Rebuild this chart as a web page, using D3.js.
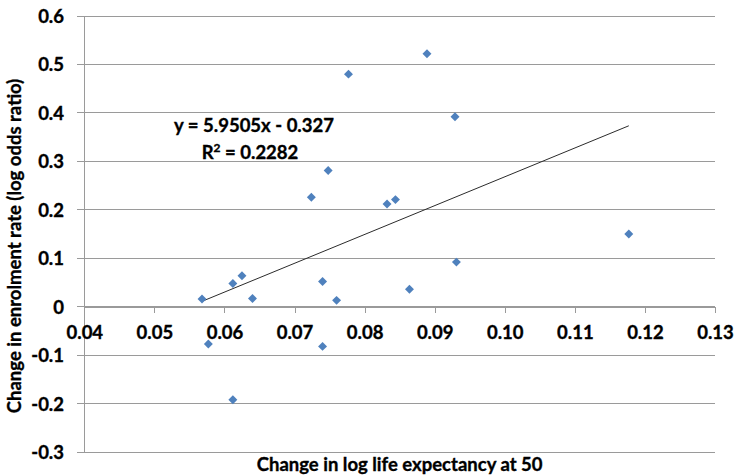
<!DOCTYPE html>
<html>
<head>
<meta charset="utf-8">
<script src="https://cdn.jsdelivr.net/npm/d3@7"></script>
<style>
  html, body { margin: 0; padding: 0; background: #ffffff; }
  svg { display: block; }
  text { font-family: "Lato", "Open Sans", sans-serif; font-weight: bold; fill: #000; stroke: #000; stroke-width: 0.35px; }
</style>
</head>
<body>
<svg id="chart" width="734" height="476"></svg>
<script>
// ---- data ----
const xValues = [0.0568, 0.0577, 0.0612, 0.0612, 0.0625, 0.0640, 0.0724, 0.0740, 0.0740, 0.0748,
                 0.0760, 0.0777, 0.0832, 0.0844, 0.0864, 0.0889, 0.0929, 0.0931, 0.1177];
const yValues = [0.016, -0.077, 0.048, -0.192, 0.064, 0.017, 0.226, 0.052, -0.082, 0.281,
                 0.013, 0.480, 0.212, 0.221, 0.036, 0.522, 0.392, 0.092, 0.150];
const xTicks = [0.04, 0.05, 0.06, 0.07, 0.08, 0.09, 0.10, 0.11, 0.12, 0.13];
const yTicks = [-0.3, -0.2, -0.1, 0, 0.1, 0.2, 0.3, 0.4, 0.5, 0.6];
const trendSlope = 5.9505;
const trendIntercept = -0.327;
const rSquared = 0.2282;
const xTitle = "Change in log life expectancy at 50";
const yTitle = "Change in enrolment rate (log odds ratio)";

// ---- layout ----
const plot = { left: 84.3, right: 715, top: 16, bottom: 452 };
const svg = d3.select("#chart");

const x = d3.scaleLinear().domain([0.04, 0.13]).range([plot.left, plot.right]);
const y = d3.scaleLinear().domain([-0.3, 0.6]).range([plot.bottom, plot.top]);

const gridColor = "#9a9a9a";
const fs = 18.5;

// horizontal gridlines + y tick marks
svg.append("g").selectAll("line").data(yTicks).join("line")
  .attr("x1", plot.left - 7).attr("x2", plot.right)
  .attr("y1", d => y(d)).attr("y2", d => y(d))
  .attr("stroke", gridColor).attr("stroke-width", 1).attr("shape-rendering", "crispEdges");

// y axis line
svg.append("line")
  .attr("x1", plot.left).attr("x2", plot.left)
  .attr("y1", plot.top).attr("y2", plot.bottom)
  .attr("stroke", gridColor).attr("stroke-width", 1).attr("shape-rendering", "crispEdges");

// x axis at y = 0
const xAxis = d3.axisBottom(x).tickValues(xTicks).tickSize(6).tickFormat(d3.format(".2f"));
const gx = svg.append("g").attr("transform", `translate(0,${y(0)})`).call(xAxis);
gx.select(".domain").attr("stroke", gridColor).attr("shape-rendering", "crispEdges");
gx.selectAll(".tick line").attr("stroke", gridColor).attr("shape-rendering", "crispEdges");
gx.selectAll(".tick text")
  .attr("y", 32.5).attr("dy", null)
  .style("font-family", "Lato, 'Open Sans', sans-serif")
  .style("font-weight", "bold").style("font-size", fs + "px")
  .attr("fill", "#000").attr("stroke", "#000").attr("stroke-width", 0.35);

// y tick labels
const yFmt = d => d === 0 ? "0" : d3.format(".1f")(d).replace("−", "-");
svg.append("g").selectAll("text").data(yTicks).join("text")
  .attr("x", 64).attr("y", d => y(d) + 7)
  .attr("text-anchor", "end")
  .style("font-size", fs + "px")
  .text(yFmt);

// trendline
const xMin = d3.min(xValues), xMax = d3.max(xValues);
svg.append("line")
  .attr("x1", x(xMin)).attr("y1", y(trendSlope * xMin + trendIntercept))
  .attr("x2", x(xMax)).attr("y2", y(trendSlope * xMax + trendIntercept))
  .attr("stroke", "#2b2b2b").attr("stroke-width", 1);

// points (diamonds)
const pts = xValues.map((v, i) => ({ x: v, y: yValues[i] }));
svg.append("g").selectAll("path").data(pts).join("path")
  .attr("d", d3.symbol().type(d3.symbolSquare).size(40))
  .attr("transform", d => `translate(${x(d.x)},${y(d.y)}) rotate(45)`)
  .attr("fill", "#4f81bd");

// equation label
const eq = svg.append("g");
eq.append("text").attr("x", 254).attr("y", 131.5).attr("text-anchor", "middle")
  .style("font-size", fs + "px")
  .text(`y = ${trendSlope}x - ${Math.abs(trendIntercept)}`);
const r2 = eq.append("text").attr("x", 250).attr("y", 159).attr("text-anchor", "middle")
  .style("font-size", fs + "px");
r2.append("tspan").text("R");
r2.append("tspan").attr("dy", -7).style("font-size", "12px").text("2");
r2.append("tspan").attr("dy", 7).text(` = ${rSquared}`);

// axis titles
svg.append("text").attr("x", (plot.left + plot.right) / 2).attr("y", 470.5)
  .attr("text-anchor", "middle").style("font-size", fs + "px").text(xTitle);
svg.append("text")
  .attr("transform", "translate(21,246) rotate(-90)")
  .attr("text-anchor", "middle").style("font-size", fs + "px").text(yTitle);
</script>
</body>
</html>
